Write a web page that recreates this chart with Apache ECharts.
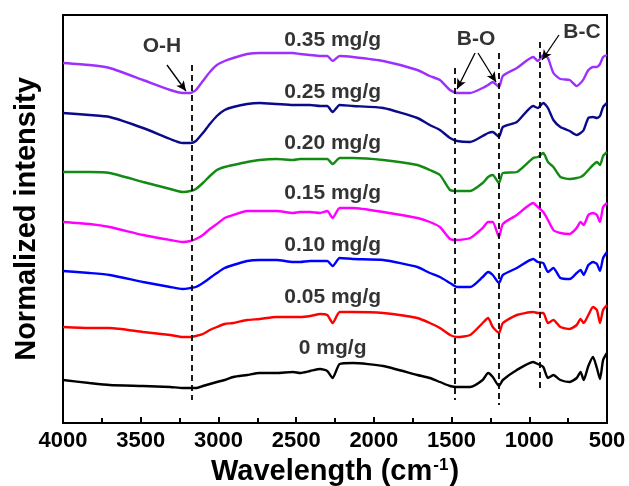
<!DOCTYPE html>
<html><head><meta charset="utf-8">
<script src="https://cdn.jsdelivr.net/npm/echarts@6/dist/echarts.min.js"></script>
<style>html,body{margin:0;padding:0;background:#fff}#c{width:629px;height:486px}</style>
</head><body><div id="c"></div>
<script>
// Wavenumber grid (cm^-1)
const wavenumbers = [4000,3830,3700,3485,3310,3230,3180,3145,3100,3055,3010,2960,2905,2815,2735,2625,2520,2475,2410,2345,2300,2265,2220,2135,1940,1720,1640,1575,1510,1465,1380,1300,1265,1235,1195,1170,1080,975,945,910,880,845,800,740,695,670,650,620,590,565,545,525,500];

// Offset normalized intensities (arbitrary units), one array per loading
const s000 = [43,40,38,37,36,35,35,35,37,39,41,43,46,48,50,50,51,50,52,54,52,45,59,60,57,48,45,41,37,36,36,43,50,46,37,43,53,61,59,56,45,48,43,41,45,51,43,57,66,55,44,63,70];
const s005 = [96,95,95,91,88,86,86,87,89,93,96,99,100,103,104,106,106,106,107,109,108,100,111,111,110,105,100,95,88,86,88,100,105,96,90,100,108,111,110,110,100,103,96,94,98,104,100,108,116,113,100,113,118];
const s010 = [152,150,148,141,136,134,135,136,140,145,150,155,158,162,163,163,161,161,162,162,162,157,165,164,163,156,150,146,140,136,136,146,151,148,140,148,155,164,161,160,151,155,145,144,150,153,148,158,161,159,152,165,171];
const s015 = [201,199,196,188,183,181,182,184,188,194,199,205,208,212,212,212,210,211,211,210,212,205,215,215,211,205,201,196,184,183,185,195,201,201,186,199,208,220,216,211,203,193,190,189,195,201,198,208,210,208,201,216,220];
const s020 = [251,251,250,241,234,231,232,234,240,247,253,256,258,261,263,264,263,264,264,264,264,259,265,265,263,258,253,248,233,232,232,240,246,248,240,250,251,265,266,270,261,256,246,244,245,246,248,253,258,261,258,267,271];
const s025 = [310,308,306,295,284,280,280,282,290,299,307,313,316,319,320,319,318,318,318,317,317,311,318,317,315,305,298,293,285,282,281,287,290,291,286,296,301,317,315,320,315,303,296,292,288,290,293,305,306,305,307,316,320];
const s035 = [360,358,355,343,333,330,330,333,342,351,358,362,365,369,370,370,370,369,368,367,367,362,367,366,362,353,347,343,333,330,330,335,338,341,336,347,355,366,362,368,365,350,344,343,337,340,344,353,356,356,359,366,368];

const seriesNames = ['0 mg/g','0.05 mg/g','0.10 mg/g','0.15 mg/g','0.20 mg/g','0.25 mg/g','0.35 mg/g'];
const seriesValues = [s000, s005, s010, s015, s020, s025, s035];
const seriesColors = ['#000000','#ff0000','#0000ff','#ff00ff','#138a13','#0a0a8a','#9b30ff'];

// Label placement (wavenumber, height)
const labelWavenumber = 2265;
const labelHeights = [75,126,178,230,280,331,383];

// Dashed guide lines: [wavenumber, top, bottom]
const guideLines = [[3170,358,23],[1482,355,23],[1197,370,18],[935,381,31]];
// Arrows: [[fromW, fromY],[toW, toY]]
const arrows = [[[3331,358],[3209,332]],[[1349,370],[1465,334]],[[1330,370],[1214,341]],[[809,388],[918,363]]];
// Band names: [text, wavenumber, height]
const bandNames = [['O-H',3363,377],['B-O',1343,384],['B-C',661,391]];

const FONT = '"Liberation Sans", Arial, sans-serif';

const chart = echarts.init(document.getElementById('c'), null, {renderer:'canvas'});

const lineSeries = seriesNames.map((n,i)=>({
  name:n, type:'line', showSymbol:false, symbol:'none', smooth:0.2,
  data: wavenumbers.map((w,j)=>[w, seriesValues[i][j]]),
  lineStyle:{color:seriesColors[i], width:2.4}, itemStyle:{color:seriesColors[i]},
  z:3, animation:false
}));

const textData = seriesNames.map((n,i)=>[labelWavenumber, labelHeights[i], n])
  .concat(bandNames.map(b=>[b[1], b[2], b[0]]));

const annot = {
  type:'line', data:[], z:4, silent:true, animation:false,
  markLine:{
    silent:true, animation:false, symbol:['none','none'],
    label:{show:false},
    lineStyle:{color:'#000', width:1.8, type:[6,4]},
    data: guideLines.map(g=>[{coord:[g[0],g[1]]},{coord:[g[0],g[2]]}])
      .concat(arrows.map(a=>[
        {coord:a[0], symbol:'none', lineStyle:{type:'solid', width:1.3, color:'#000'}},
        {coord:a[1], symbol:'arrow', symbolSize:[7,10]}
      ]))
  }
};

const texts = {
  type:'scatter', data:textData, symbolSize:1, itemStyle:{color:'rgba(0,0,0,0)'},
  z:5, silent:true, animation:false,
  label:{show:true, position:'inside', formatter:p=>p.data[2], color:'#000',
    fontFamily:FONT, fontWeight:'bold', fontSize:21}
};

chart.setOption({
  backgroundColor:'#fff',
  animation:false,
  grid:{left:63, right:22, top:15, bottom:63, show:true, borderColor:'#000', borderWidth:2, containLabel:false, outerBoundsMode:'none'},
  xAxis:{
    type:'value', min:500, max:4000, interval:500, inverse:true,
    axisLine:{show:true, onZero:false, lineStyle:{color:'#000', width:2}},
    axisTick:{show:true, inside:true, length:6, lineStyle:{color:'#000', width:2}},
    minorTick:{show:true, splitNumber:2, length:5, lineStyle:{color:'#000', width:2}},
    splitLine:{show:false},
    axisLabel:{color:'#000', fontFamily:FONT, fontWeight:'bold', fontSize:22, margin:7, formatter:v=>String(v)},
    name:'{a|Wavelength (cm}{s|-1}{a|)}', nameLocation:'middle', nameGap:28,
    nameTextStyle:{rich:{
      a:{fontFamily:FONT, fontWeight:'bold', fontSize:29, color:'#000', lineHeight:30},
      s:{fontFamily:FONT, fontWeight:'bold', fontSize:17, color:'#000', verticalAlign:'top', lineHeight:30, padding:[0,1,14,1]}
    }}
  },
  yAxis:{
    type:'value', min:0, max:408,
    axisLine:{show:true, onZero:false, lineStyle:{color:'#000', width:2}},
    axisTick:{show:false}, axisLabel:{show:false}, splitLine:{show:false},
    name:'Normalized intensity', nameLocation:'middle', nameGap:22,
    nameTextStyle:{fontFamily:FONT, fontWeight:'bold', fontSize:29, color:'#000'}
  },
  series: lineSeries.concat([annot, texts])
});
</script></body></html>
